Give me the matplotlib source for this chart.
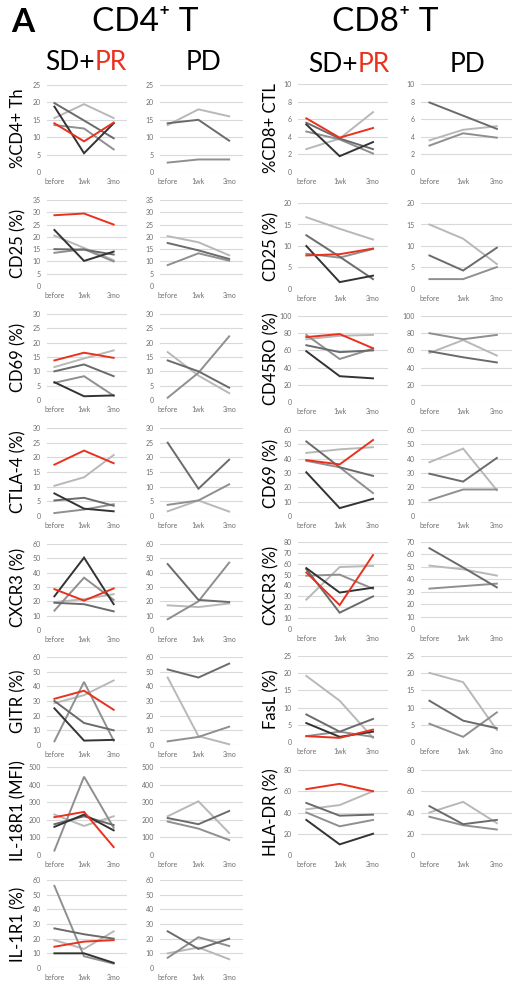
import numpy as np
import matplotlib
matplotlib.use("Agg")
import matplotlib.pyplot as plt

plt.rcParams['font.family'] = ['Lato', 'DejaVu Sans']

timepoints = ["before", "1wk", "3mo"]

RED = '#e8321e'
BLACK = '#333333'
DARK = '#6b6b6b'
MID = '#8f8f8f'
LIGHT = '#b8b8b8'

# responders: red, black, dark, mid, light ; progressors: dark, mid, light
sdpr_colors = [RED, BLACK, DARK, MID, LIGHT]
pd_colors = [DARK, MID, LIGHT]

# ---- CD4+ T ----
cd4_th_sdpr = [[14.0, 8.8, 14.2], [18.8, 5.4, 14.0], [19.8, 14.8, 9.7], [13.5, 12.5, 6.5], [15.5, 19.5, 15.5]]
cd4_th_pd = [[14.0, 15.0, 9.0], [2.7, 3.6, 3.6], [13.5, 18.0, 16.0]]

cd4_cd25_sdpr = [[28.8, 29.5, 25.0], [22.8, 10.2, 14.0], [15.0, 14.8, 12.8], [13.5, 15.0, 10.0], [20.5, 15.5, 10.5]]
cd4_cd25_pd = [[17.5, 14.5, 11.0], [8.5, 13.3, 10.3], [20.3, 17.8, 12.5]]

cd4_cd69_sdpr = [[13.8, 16.5, 14.7], [6.2, 1.3, 1.6], [10.0, 12.4, 8.3], [6.0, 8.3, 1.5], [11.5, 14.5, 17.3]]
cd4_cd69_pd = [[13.8, 10.0, 4.3], [0.8, 9.5, 22.2], [16.7, 8.5, 2.4]]

cd4_ctla4_sdpr = [[17.5, 22.3, 18.0], [7.7, 2.5, 1.6], [5.3, 6.2, 3.5], [1.0, 2.2, 4.0], [10.3, 13.2, 20.8]]
cd4_ctla4_pd = [[25.0, 9.3, 19.2], [3.8, 5.3, 10.8], [1.6, 5.3, 1.5]]

cd4_cxcr3_sdpr = [[28.5, 20.5, 29.0], [23.5, 50.5, 18.0], [19.0, 18.0, 13.0], [13.5, 36.5, 21.0], [19.5, 21.5, 25.0]]
cd4_cxcr3_pd = [[46.0, 21.0, 19.5], [7.5, 20.0, 47.0], [17.2, 16.0, 18.5]]

cd4_gitr_sdpr = [[31.5, 37.0, 24.0], [25.0, 3.0, 3.5], [30.0, 15.0, 10.0], [2.5, 43.0, 3.0], [28.5, 34.0, 44.0]]
cd4_gitr_pd = [[51.5, 46.0, 55.5], [2.5, 5.5, 12.5], [46.0, 6.0, 0.5]]

cd4_il18r1_sdpr = [[215, 245, 45], [160, 230, 140], [175, 220, 170], [25, 445, 155], [230, 165, 220]]
cd4_il18r1_pd = [[210, 175, 250], [190, 150, 85], [220, 305, 125]]

cd4_il1r1_sdpr = [[14.5, 18.0, 19.0], [10.0, 10.0, 3.5], [27.0, 23.0, 20.0], [56.0, 8.0, 3.0], [19.0, 13.0, 25.0]]
cd4_il1r1_pd = [[25.0, 13.0, 20.0], [7.0, 21.0, 15.0], [10.0, 14.0, 6.0]]

# ---- CD8+ T ----
cd8_ctl_sdpr = [[6.1, 3.9, 5.0], [5.4, 1.8, 3.4], [5.6, 3.8, 2.6], [4.6, 3.7, 2.1], [2.6, 3.8, 6.8]]
cd8_ctl_pd = [[7.9, 6.4, 4.9], [3.0, 4.4, 3.9], [3.6, 4.8, 5.2]]

cd8_cd25_sdpr = [[7.8, 8.1, 9.4], [10.0, 1.6, 3.1], [12.5, 7.5, 2.3], [8.2, 7.3, 9.3], [16.7, 14.0, 11.5]]
cd8_cd25_pd = [[7.8, 4.3, 9.6], [2.3, 2.3, 5.1], [15.0, 11.7, 5.8]]

cd8_cd45ro_sdpr = [[75.5, 79.0, 62.5], [59.0, 30.0, 27.5], [66.0, 58.0, 60.0], [78.0, 50.0, 62.0], [73.0, 77.0, 78.0]]
cd8_cd45ro_pd = [[59.0, 52.0, 46.0], [80.0, 73.0, 78.0], [57.0, 72.0, 54.0]]

cd8_cd69_sdpr = [[39.0, 36.0, 53.0], [30.5, 5.5, 12.0], [52.0, 34.0, 28.0], [38.5, 34.0, 16.0], [44.0, 46.5, 48.0]]
cd8_cd69_pd = [[29.5, 24.0, 40.5], [11.0, 18.5, 18.5], [37.5, 47.0, 18.0]]

cd8_cxcr3_sdpr = [[52.0, 22.0, 68.0], [56.0, 33.5, 38.0], [55.0, 15.0, 30.0], [49.0, 50.0, 37.0], [27.0, 57.0, 58.0]]
cd8_cxcr3_pd = [[65.0, 49.5, 33.5], [32.5, 34.5, 36.5], [51.0, 48.0, 43.0]]

cd8_fasl_sdpr = [[1.7, 1.2, 3.6], [5.5, 1.5, 3.0], [8.0, 3.0, 6.7], [1.7, 3.0, 1.5], [19.2, 12.0, 1.2]]
cd8_fasl_pd = [[12.0, 6.2, 4.0], [5.3, 1.5, 8.6], [20.1, 17.4, 3.5]]

cd8_hladr_sdpr = [[62.0, 67.0, 60.0], [33.0, 10.0, 20.0], [49.0, 37.0, 38.0], [40.0, 27.0, 33.0], [43.0, 47.0, 60.0]]
cd8_hladr_pd = [[46.0, 29.0, 33.0], [36.0, 28.0, 24.0], [40.0, 50.0, 30.0]]

# (label, responders, progressors, ymax responders, ymax progressors, step)
cd4_rows = [
    ("%CD4+ Th", cd4_th_sdpr, cd4_th_pd, 25, 25, 5),
    ("CD25 (%)", cd4_cd25_sdpr, cd4_cd25_pd, 35, 35, 5),
    ("CD69 (%)", cd4_cd69_sdpr, cd4_cd69_pd, 30, 30, 5),
    ("CTLA-4 (%)", cd4_ctla4_sdpr, cd4_ctla4_pd, 30, 30, 5),
    ("CXCR3 (%)", cd4_cxcr3_sdpr, cd4_cxcr3_pd, 60, 60, 10),
    ("GITR (%)", cd4_gitr_sdpr, cd4_gitr_pd, 60, 60, 10),
    ("IL-18R1 (MFI)", cd4_il18r1_sdpr, cd4_il18r1_pd, 500, 500, 100),
    ("IL-1R1 (%)", cd4_il1r1_sdpr, cd4_il1r1_pd, 60, 60, 10),
]
cd8_rows = [
    ("%CD8+ CTL", cd8_ctl_sdpr, cd8_ctl_pd, 10, 10, 2),
    ("CD25 (%)", cd8_cd25_sdpr, cd8_cd25_pd, 20, 20, 5),
    ("CD45RO (%)", cd8_cd45ro_sdpr, cd8_cd45ro_pd, 100, 100, 20),
    ("CD69 (%)", cd8_cd69_sdpr, cd8_cd69_pd, 60, 60, 10),
    ("CXCR3 (%)", cd8_cxcr3_sdpr, cd8_cxcr3_pd, 80, 70, 10),
    ("FasL (%)", cd8_fasl_sdpr, cd8_fasl_pd, 25, 25, 5),
    ("HLA-DR (%)", cd8_hladr_sdpr, cd8_hladr_pd, 80, 80, 20),
]

W, H = 518, 992
fig = plt.figure(figsize=(W / 100, H / 100), dpi=100)


def add_panel(x0, x1, ytop, ybot, series, colors, ymax, step):
    ax = fig.add_axes([x0 / W, 1 - ybot / H, (x1 - x0) / W, (ybot - ytop) / H])
    xs = np.arange(len(timepoints))
    for vals, c in zip(series[::-1], colors[::-1]):
        ax.plot(xs, vals, color=c, lw=1.4, solid_joinstyle='miter', clip_on=False)
    ax.set_xlim(-0.25, 2.45)
    ax.set_ylim(0, ymax)
    ax.set_yticks(np.arange(0, ymax + step / 2, step))
    ax.set_xticks(xs, timepoints)
    ax.grid(axis='y', color='#d9d9d9', lw=0.8)
    ax.set_axisbelow(True)
    for s in ax.spines.values():
        s.set_visible(False)
    ax.tick_params(length=0, labelsize=5.0, colors='#6e6e6e', pad=4.5)
    return ax


# pixel layout of the two blocks
cd4_cols = [(47, 127), (160, 243)]
cd4_ys = [(85, 172), (200, 286), (314, 400), (428, 516), (544, 630), (657, 745), (767, 855), (880, 968)]
cd8_cols = [(298, 388), (421, 512)]
cd8_ys = [(84, 172), (203, 289), (316, 402), (430, 516), (542, 629), (656, 742), (770, 855)]

for (label, a, b, ma, mb, step), (yt, yb) in zip(cd4_rows, cd4_ys):
    add_panel(*cd4_cols[0], yt, yb, a, sdpr_colors, ma, step)
    add_panel(*cd4_cols[1], yt, yb, b, pd_colors, mb, step)
    fig.text(18 / W, 1 - (yt + yb) / 2 / H, label, rotation=90, ha='center', va='center', fontsize=12)

for (label, a, b, ma, mb, step), (yt, yb) in zip(cd8_rows, cd8_ys):
    add_panel(*cd8_cols[0], yt, yb, a, sdpr_colors, ma, step)
    add_panel(*cd8_cols[1], yt, yb, b, pd_colors, mb, step)
    fig.text(271 / W, 1 - (yt + yb) / 2 / H, label, rotation=90, ha='center', va='center', fontsize=12)

# headers
fig.text(11 / W, 1 - 22 / H, "A", fontsize=24, fontweight='bold', va='center', ha='left')
fig.text(145 / W, 1 - 22 / H, "CD4\u207a T", fontsize=24, va='center', ha='center')
fig.text(385 / W, 1 - 22 / H, "CD8\u207a T", fontsize=24, va='center', ha='center')

for split, yc in [(95, 63), (358, 64)]:
    fig.text(split / W, 1 - yc / H, "SD+", fontsize=19, va='center', ha='right')
    fig.text(split / W, 1 - yc / H, "PR", fontsize=19, va='center', ha='left', color=RED)
fig.text(203 / W, 1 - 63 / H, "PD", fontsize=19, va='center', ha='center')
fig.text(467 / W, 1 - 64 / H, "PD", fontsize=19, va='center', ha='center')

fig.savefig("out.png", dpi=100)
